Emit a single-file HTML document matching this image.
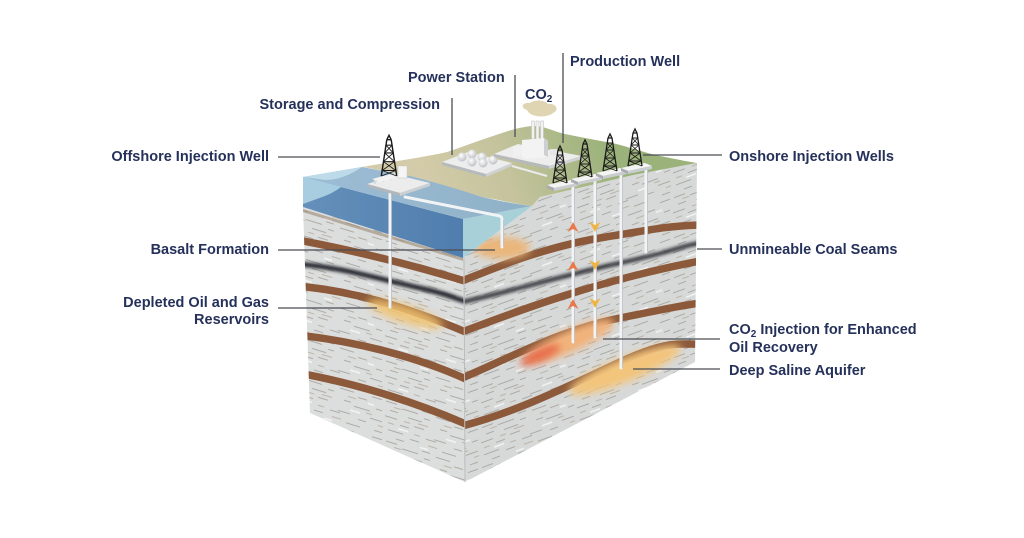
<!DOCTYPE html>
<html><head><meta charset="utf-8"><style>
html,body{margin:0;padding:0;background:#fff;width:1024px;height:538px;overflow:hidden;}
svg{display:block}
text{font-family:"Liberation Sans",Arial,sans-serif;font-weight:bold;font-size:14.5px;fill:#25315a;}
</style></head><body>
<svg width="1024" height="538" viewBox="0 0 1024 538" xmlns="http://www.w3.org/2000/svg">
<defs>
<pattern id="texL" width="96" height="40" patternUnits="userSpaceOnUse" patternTransform="skewY(17)">
<rect width="96" height="40" fill="#dcdddd"/>
<path d="M2 3h11M18 6h16M38 2h8M6 11h8M24 13h14M1 18h12M30 20h10M16 23h9M40 9h6M52 4h14M70 8h9M84 3h10M56 15h7M66 18h16M88 14h6M50 27h12M70 30h8M82 25h12M4 31h15M26 34h9M42 29h10M58 37h14M86 36h8M12 38h8" stroke="#7c776e" stroke-width="1" opacity="0.5" fill="none"/>
<path d="M10 7h7M34 16h10M4 24h6M20 18h6M60 10h8M78 21h6M44 35h9M90 30h5M30 28h6" stroke="#a08a6e" stroke-width="1" opacity="0.5" fill="none"/>
<path d="M14 27h10M62 23h10M36 39h8M80 11h6" stroke="#ffffff" stroke-width="1.4" opacity="0.7" fill="none"/>
</pattern>
<pattern id="texR" width="96" height="40" patternUnits="userSpaceOnUse" patternTransform="skewY(-20)">
<rect width="96" height="40" fill="#d7d9d9"/>
<path d="M2 3h11M18 6h16M38 2h8M6 11h8M24 13h14M1 18h12M30 20h10M16 23h9M40 9h6M52 4h14M70 8h9M84 3h10M56 15h7M66 18h16M88 14h6M50 27h12M70 30h8M82 25h12M4 31h15M26 34h9M42 29h10M58 37h14M86 36h8M12 38h8" stroke="#7c776e" stroke-width="1" opacity="0.5" fill="none"/>
<path d="M10 7h7M34 16h10M4 24h6M20 18h6M60 10h8M78 21h6M44 35h9M90 30h5M30 28h6" stroke="#a08a6e" stroke-width="1" opacity="0.5" fill="none"/>
<path d="M14 27h10M62 23h10M36 39h8M80 11h6" stroke="#ffffff" stroke-width="1.4" opacity="0.7" fill="none"/>
</pattern>
<clipPath id="clipL"><polygon points="303,207 463,258 465,482 310,413"/></clipPath>
<clipPath id="clipR"><polygon points="463,258 532,206 540,197 583,187 633,175 697,163 695,362 465,482"/></clipPath>
<filter id="blur4" x="-50%" y="-50%" width="200%" height="200%"><feGaussianBlur stdDeviation="4"/></filter>
<filter id="blur2" x="-20%" y="-50%" width="140%" height="200%"><feGaussianBlur stdDeviation="1.6"/></filter>
<linearGradient id="ground" x1="430" y1="200" x2="600" y2="130" gradientUnits="userSpaceOnUse">
<stop offset="0" stop-color="#d3cba9"/><stop offset="0.45" stop-color="#c4c39c"/><stop offset="1" stop-color="#9bb27a"/>
</linearGradient>
<linearGradient id="waterF" x1="303" y1="0" x2="463" y2="0" gradientUnits="userSpaceOnUse">
<stop offset="0" stop-color="#6590bb"/><stop offset="1" stop-color="#4f7dad"/>
</linearGradient>
<linearGradient id="waterT" x1="303" y1="177" x2="530" y2="205" gradientUnits="userSpaceOnUse">
<stop offset="0" stop-color="#9dbdd6"/><stop offset="1" stop-color="#8fb1c6"/>
</linearGradient>
<radialGradient id="sph" cx="0.4" cy="0.35" r="0.7"><stop offset="0" stop-color="#ffffff"/><stop offset="1" stop-color="#b9bcc0"/></radialGradient>
<g id="der" fill="none" stroke="#1b1b1b">
<path d="M-7 0 L-2 -33 M7 0 L2 -33 M-2 -33 H2 M-2 -33 L0 -37 L2 -33" stroke-width="1.3"/>
<path d="M-6.2 -5 H6.2 M-5 -13 H5 M-3.9 -21 H3.9 M-2.8 -28 H2.8" stroke-width="1"/>
<path d="M-6.2 -5 L5 -13 M6.2 -5 L-5 -13 M-5 -13 L3.9 -21 M5 -13 L-3.9 -21 M-3.9 -21 L2.8 -28 M3.9 -21 L-2.8 -28 M-7 0 L6.2 -5 M7 0 L-6.2 -5" stroke-width="0.8"/>
</g>
<g id="plat">
<polygon points="-14,1 10,-4 17,-1 -7,4" fill="#f4f4f4"/>
<polygon points="-14,1 -7,4 -7,7 -14,4" fill="#a8acb0"/>
<polygon points="-7,4 17,-1 17,2 -7,7" fill="#c9ccd0"/>
</g>
</defs>

<!-- LEFT FACE -->
<polygon points="303,207 463,258 465,482 310,413" fill="url(#texL)"/>
<g clip-path="url(#clipL)">
<g fill="none" stroke="#8c5a3a" stroke-width="7.5">
<path d="M298,240 Q383,256 468,282"/>
<path d="M298,286 C350,291 400,304 468,333"/>
<path d="M298,335 C360,342 420,358 468,380"/>
<path d="M298,373 C360,384 420,404 468,425"/>
</g>
<ellipse cx="405" cy="314" rx="40" ry="9" fill="#f1c36f" opacity="0.85" transform="rotate(18 405 314)" filter="url(#blur4)"/>
<path d="M298,264 C340,267 380,279 420,288 S455,300 470,302" fill="none" stroke="#25272d" stroke-width="5" filter="url(#blur2)"/>
<path d="M298,209 L465,260" stroke="#9c8a74" stroke-width="3" opacity="0.6"/>
</g>

<!-- RIGHT FACE -->
<polygon points="463,258 532,206 540,197 583,187 633,175 697,163 695,362 465,482" fill="url(#texR)"/>
<g clip-path="url(#clipR)">
<g fill="none" stroke="#8c5a3a" stroke-width="7.5">
<path d="M462,281 C490,270 540,248 600,238 S670,226 700,225"/>
<path d="M462,332 C520,310 600,280 700,261"/>
<path d="M462,378 C510,358 560,330 620,318 S680,306 700,303"/>
<path d="M462,426 C520,411 570,385 620,362 S680,345 700,344"/>
</g>
<ellipse cx="502" cy="248" rx="28" ry="11" fill="#eab67a" filter="url(#blur4)"/>
<ellipse cx="570" cy="341" rx="48" ry="11" fill="#f2b27a" transform="rotate(-24 570 341)" filter="url(#blur4)"/>
<ellipse cx="540" cy="355" rx="22" ry="6" fill="#e66a4a" transform="rotate(-24 540 355)" filter="url(#blur4)"/>
<ellipse cx="625" cy="370" rx="60" ry="12" fill="#f3c57b" transform="rotate(-22 625 370)" filter="url(#blur4)"/>
<path d="M462,302 C510,292 560,276 620,263 S680,246 700,243" fill="none" stroke="#2a2c33" stroke-width="4.5" filter="url(#blur2)" opacity="0.9"/>
</g>
<line x1="464" y1="258" x2="465" y2="482" stroke="#b9bbbd" stroke-width="1"/>

<!-- WATER -->
<polygon points="303,177 463,219 463,258 303,207" fill="url(#waterF)"/>
<path d="M303,177 L362,167 C352,178 342,189 325,196 L303,204 Z" fill="#b4d8e8" opacity="0.85"/>
<polygon points="463,219 532,206 463,258" fill="#a8d0d8"/>
<!-- GROUND -->
<path d="M362,167 C390,162 420,158 447,152 C462,147 475,142 490,137 C505,132 518,127 533,126 C545,126 552,131 565,134 C580,137 595,140 612,143 C630,147 645,153 660,156 C675,159 690,162 697,163 L633,175 L583,187 L540,197 L532,206 C515,204 500,200 482,197 C465,192 450,188 435,184 C420,180 405,175 390,172 C378,170 370,168 362,167 Z" fill="url(#ground)"/>
<!-- water top surface -->
<path d="M303,177 L362,167 C378,170 395,173 410,176 C430,181 455,188 482,197 C500,201 515,204 532,206 L463,219 Z" fill="url(#waterT)"/>
<path d="M303,177 L362,167 C350,175 338,180 325,180 Z" fill="#c5e2ee" opacity="0.8"/>

<!-- wells pipes -->
<g stroke="#f1f3f5" stroke-width="3" fill="none" stroke-linecap="round">
<path d="M390,192 V307"/>
<path d="M405,197 L500,216 Q502,217 502,220 V247"/>
<path d="M573,186 V342"/>
<path d="M595,181 V337"/>
<path d="M621,176 V368"/>
<path d="M646,170 V252"/>
</g>
<g stroke="#a9adb2" stroke-width="0.6" fill="none">
<path d="M391.6,192 V307 M574.6,186 V342 M596.6,181 V337 M622.6,176 V368 M647.6,170 V252 M503.6,220 V247"/>
</g>

<!-- arrows -->
<g fill="#e9794a">
<polygon points="573,222 578.5,232 573,229 567.5,232"/>
<polygon points="573,261 578.5,271 573,268 567.5,271"/>
<polygon points="573,299 578.5,309 573,306 567.5,309"/>
</g>
<g fill="#f0b445">
<polygon points="595,232 600.5,222 595,225 589.5,222"/>
<polygon points="595,270 600.5,260 595,263 589.5,260"/>
<polygon points="595,308 600.5,298 595,301 589.5,298"/>
</g>

<!-- storage -->
<polygon points="442,162 468,152 512,163 486,174" fill="#ededed"/>
<polygon points="442,162 486,174 486,177 442,165" fill="#b7babd"/>
<polygon points="486,174 512,163 512,166 486,177" fill="#cfd1d3"/>
<circle cx="462" cy="157" r="4.5" fill="url(#sph)"/>
<circle cx="472" cy="154" r="4.5" fill="url(#sph)"/>
<circle cx="482" cy="157" r="4.5" fill="url(#sph)"/>
<circle cx="493" cy="160" r="4.5" fill="url(#sph)"/>
<circle cx="472" cy="162" r="4.5" fill="url(#sph)"/>
<circle cx="483" cy="163" r="4.5" fill="url(#sph)"/>
<path d="M512,166 L547,176" stroke="#eaeaea" stroke-width="2"/>

<!-- power station -->
<path d="M527,110 C520,108 522,102 530,103 C535,99 545,100 548,104 C556,103 560,110 553,113 C548,118 530,118 527,110 Z" fill="#ddd0ab" opacity="0.9"/>
<polygon points="494,154 518,144 582,156 549,166" fill="#ededed"/>
<polygon points="494,154 549,166 549,169 494,157" fill="#b7babd"/>
<polygon points="549,166 582,156 582,159 549,169" fill="#cfd1d3"/>
<rect x="531.5" y="121" width="3" height="18" fill="#f2f2f2" stroke="#bcbcbc" stroke-width="0.5"/>
<rect x="536" y="121" width="3" height="18" fill="#f2f2f2" stroke="#bcbcbc" stroke-width="0.5"/>
<rect x="540.5" y="121" width="3" height="18" fill="#f2f2f2" stroke="#bcbcbc" stroke-width="0.5"/>
<polygon points="522,140 544,138 548,141 548,157 526,159 522,156" fill="#f3f3f3"/>
<polygon points="544,138 548,141 548,157 544,155" fill="#cdd0d3"/>
<rect x="513" y="146" width="9" height="10" fill="#f0f0f0"/>
<rect x="550" y="149" width="8" height="6" fill="#e6e6e6"/>

<!-- offshore platform -->
<polygon points="367,184 397,175 430,183 400,193" fill="#ececec"/>
<polygon points="367,184 400,193 400,196 367,187" fill="#b3b7bb"/>
<polygon points="400,193 430,183 430,186 400,196" fill="#cdd0d3"/>
<g stroke="#d9dbdd" stroke-width="2"><path d="M375,184 V179 M383,182 V177 M391,180 V175"/></g>
<polygon points="372,179 395,173 404,176 380,182" fill="#f2f2f2"/>
<rect x="398" y="166" width="9" height="12" fill="#f5f5f5" stroke="#c8c8c8" stroke-width="0.5"/>
<use href="#der" transform="translate(389,176) scale(1.1)"/>

<!-- onshore derricks -->
<use href="#plat" transform="translate(561,184)"/>
<use href="#plat" transform="translate(585,178)"/>
<use href="#plat" transform="translate(610,172)"/>
<use href="#plat" transform="translate(635,167)"/>
<use href="#der" transform="translate(560,183)"/>
<use href="#der" transform="translate(585,177)"/>
<use href="#der" transform="translate(610,171)"/>
<use href="#der" transform="translate(635,166)"/>

<!-- leader lines -->
<g stroke="#4a4d55" stroke-width="1.3" fill="none">
<path d="M563,53 V143"/>
<path d="M515,75 V137"/>
<path d="M452,98 V155"/>
<path d="M278,157 H380"/>
<path d="M278,250 H495"/>
<path d="M278,308 H377"/>
<path d="M643,155 H722"/>
<path d="M697,249 H722"/>
<path d="M603,339 H720"/>
<path d="M633,369 H720"/>
</g>

<!-- labels -->
<text x="570" y="66">Production Well</text>
<text x="408" y="82">Power Station</text>
<text x="525" y="99">CO<tspan font-size="10" dy="3">2</tspan></text>
<text x="440" y="109" text-anchor="end">Storage and Compression</text>
<text x="269" y="161" text-anchor="end">Offshore Injection Well</text>
<text x="269" y="254" text-anchor="end">Basalt Formation</text>
<text x="269" y="307" text-anchor="end">Depleted Oil and Gas</text>
<text x="269" y="324" text-anchor="end">Reservoirs</text>
<text x="729" y="161">Onshore Injection Wells</text>
<text x="729" y="254">Unmineable Coal Seams</text>
<text x="729" y="334">CO<tspan font-size="10" dy="3">2</tspan><tspan dy="-3"> Injection for Enhanced</tspan></text>
<text x="729" y="352">Oil Recovery</text>
<text x="729" y="375">Deep Saline Aquifer</text>
</svg>
</body></html>
